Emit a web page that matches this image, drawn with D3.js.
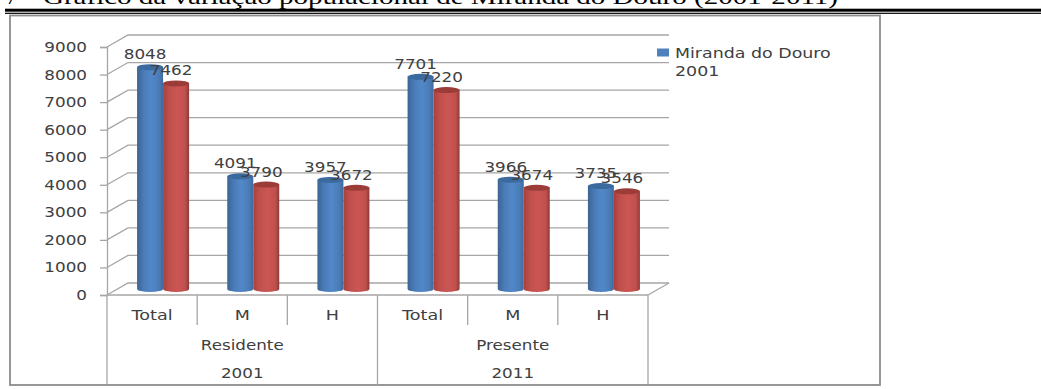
<!DOCTYPE html>
<html>
<head>
<meta charset="utf-8">
<script src="https://cdn.jsdelivr.net/npm/d3@7"></script>
<style>
  html, body { margin: 0; padding: 0; background: #fff; overflow: hidden; }
  text { font-family: "DejaVu Sans", sans-serif; fill: #404040; }
</style>
</head>
<body>
<svg id="chart" width="1041" height="389"></svg>
<script>
const titleNumber = "7";
const titleText = "Gráfico da variação populacional de Miranda do Douro (2001-2011)";
const categories = ["Total", "M", "H", "Total", "M", "H"];
const groups = [
  { label: "Residente", year: "2001", from: 0, to: 3 },
  { label: "Presente", year: "2011", from: 3, to: 6 }
];
const values2001 = [8048, 4091, 3957, 7701, 3966, 3735];
const values2011 = [7462, 3790, 3672, 7220, 3674, 3546];
const yTicks = [0, 1000, 2000, 3000, 4000, 5000, 6000, 7000, 8000, 9000];
const legendLines = ["Miranda do Douro", "2001"];

const margin = { left: 107, right: 393, top: 47, bottom: 94 };
const width = 1041, height = 389;
const depthX = 21, depthY = 12;
const gridColor = "#a6a6a6";

const svg = d3.select("#chart");
const defs = svg.append("defs");

const x = d3.scaleBand()
  .domain(d3.range(categories.length))
  .range([margin.left, width - margin.right]);
const y = d3.scaleLinear()
  .domain([0, 9000])
  .range([height - margin.bottom, margin.top]);

// cylinder shading, darker towards the edges
function addGradient(id, edge, mid, light, right) {
  const g = defs.append("linearGradient").attr("id", id);
  [[0, edge], [0.25, mid], [0.55, light], [0.85, mid], [1, right]].forEach(s => {
    g.append("stop").attr("offset", s[0]).attr("stop-color", s[1]);
  });
}
addGradient("blueBar", "#3a6494", "#4a7bb6", "#5288c9", "#40699b");
addGradient("redBar", "#a8403d", "#c0504d", "#cb5653", "#8c3a38");

// wide, slightly stretched labels
function label(parent, tx, ty, str, size, anchor, sx) {
  return parent.append("text")
    .attr("transform", `translate(${tx},${ty}) scale(${sx || 1.2},1)`)
    .attr("text-anchor", anchor || "middle")
    .attr("font-size", size || 14)
    .text(str);
}

// heading, cut by the top edge, and its double rule
function heading(tx, str, length) {
  const t = svg.append("text")
    .attr("x", tx).attr("y", 3.5)
    .attr("font-size", 22)
    .style("font-family", "'Liberation Serif', serif")
    .style("fill", "#000")
    .text(str);
  if (length) t.attr("textLength", length).attr("lengthAdjust", "spacingAndGlyphs");
}
heading(6, titleNumber);
heading(43, titleText, 795);
svg.append("rect").attr("x", 5).attr("y", 8.7).attr("width", 1036).attr("height", 3).attr("fill", "#000");
svg.append("rect").attr("x", 5).attr("y", 12.7).attr("width", 1036).attr("height", 1.2).attr("fill", "#000");

// chart frame
svg.append("rect")
  .attr("x", 10).attr("y", 15.5).attr("width", 870).attr("height", 369.5)
  .attr("fill", "#fff").attr("stroke", "#8c8c8c").attr("stroke-width", 1.8);

const x0 = x.range()[0], x1 = x.range()[1];

// back wall gridlines and side wall slants
const grid = svg.append("g").attr("stroke", gridColor).attr("stroke-width", 1.3).attr("fill", "none");
yTicks.forEach(t => {
  grid.append("path").attr("d", `M${x0},${y(t)}L${x0 + depthX},${y(t) - depthY}H${x1 + depthX}`);
});
grid.append("path").attr("d", `M${x1},${y(0)}L${x1 + depthX},${y(0) - depthY}`);

// value axis
const yAxis = d3.axisLeft(y).tickValues(yTicks).tickSize(7).tickFormat("");
const yG = svg.append("g").attr("transform", `translate(${x0},0)`).call(yAxis);
yG.select(".domain").attr("stroke", gridColor).attr("stroke-width", 1.3);
yG.selectAll(".tick line").attr("stroke", gridColor).attr("stroke-width", 1.3);
yTicks.forEach(t => label(svg, 87, y(t) + 5, t, 14, "end", 1.2));

// category axis with its multi-level separators
const axisY = y(0);
const catLines = svg.append("g").attr("stroke", gridColor).attr("stroke-width", 1.3);
catLines.append("line").attr("x1", x0).attr("x2", x1).attr("y1", axisY).attr("y2", axisY);
d3.range(categories.length + 1).forEach(i => {
  const px = i === categories.length ? x1 : x(i);
  const major = i % 3 === 0;
  catLines.append("line").attr("x1", px).attr("x2", px)
    .attr("y1", axisY).attr("y2", major ? 385 : 325);
});
categories.forEach((c, i) => label(svg, x(i) + x.bandwidth() / 2, 320, c, 13.5, "middle", 1.3));
groups.forEach(g => {
  const mid = (x(g.from) + (g.to === categories.length ? x1 : x(g.to))) / 2;
  label(svg, mid, 350, g.label, 13.5, "middle", 1.24);
  label(svg, mid, 378, g.year, 13.5, "middle", 1.24);
});

// cylinders
const barW = 26, rx = 13, ry = 3, lift = 6, shift = 11;
function drawBars(values, offset, fill, topColor) {
  const gr = svg.append("g");
  values.forEach((v, i) => {
    const left = x(i) + x.bandwidth() / 2 + shift + offset;
    const top = y(v) - lift, base = y(0) - lift;
    gr.append("path")
      .attr("d", `M${left},${top}V${base}A${rx},${ry} 0 0 0 ${left + barW},${base}V${top}Z`)
      .attr("fill", `url(#${fill})`);
    gr.append("ellipse")
      .attr("cx", left + rx).attr("cy", top)
      .attr("rx", rx).attr("ry", ry)
      .attr("fill", topColor);
  });
}
drawBars(values2001, -barW, "blueBar", "#3b6a9f");
drawBars(values2011, 0, "redBar", "#9c3c39");

// value labels sit over the cylinders
function drawValues(values, offset) {
  values.forEach((v, i) => {
    const cx = x(i) + x.bandwidth() / 2 + shift + offset;
    label(svg, cx, y(v) - lift - 8, v, 14, "middle", 1.2);
  });
}
drawValues(values2001, -barW / 2 - 5);
drawValues(values2011, barW / 2 - 5);

// legend
svg.append("rect").attr("x", 657).attr("y", 48.5).attr("width", 12).attr("height", 8).attr("fill", "#4f81bd");
legendLines.forEach((l, i) => label(svg, 675, 58 + i * 18, l, 13.5, "start", 1.29));
</script>
</body>
</html>
